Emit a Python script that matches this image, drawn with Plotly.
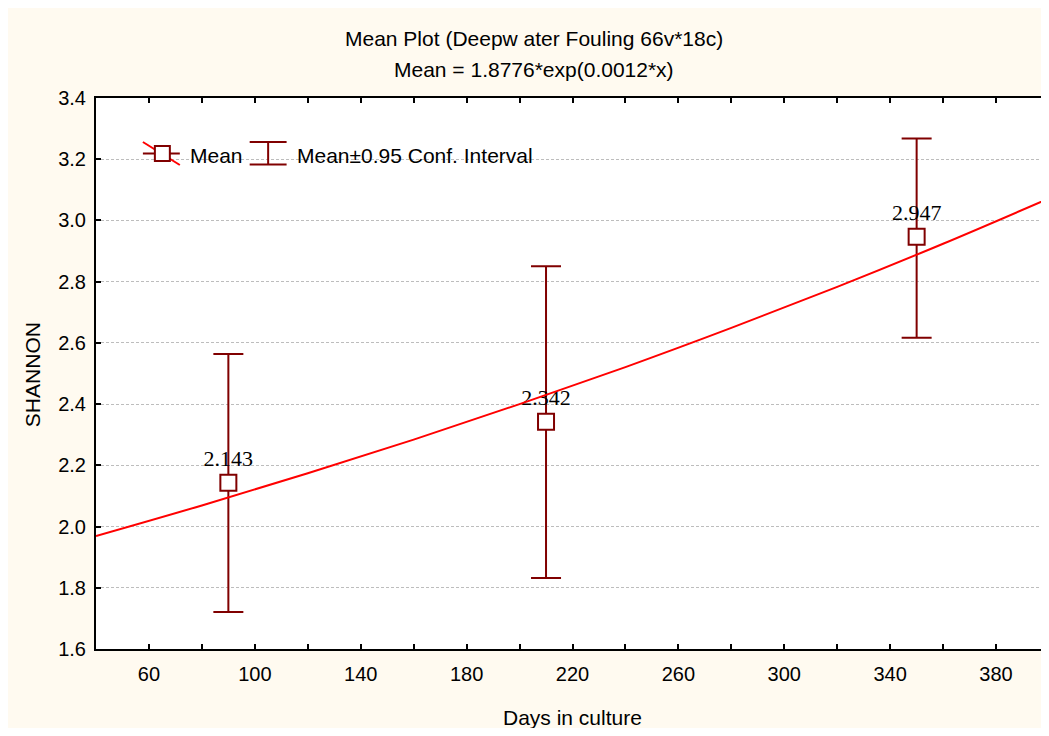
import plotly.graph_objects as go

# ---- data ----
days = [90, 210, 350]
mean_shannon = [2.143, 2.342, 2.947]
ci_lower = [1.721, 1.832, 2.617]
ci_upper = [2.564, 2.850, 3.268]
mean_labels = ["2.143", "2.342", "2.947"]

fit_x = [40, 80, 120, 160, 200, 240, 280, 320, 360, 400]
fit_y = [1.969, 2.069, 2.174, 2.284, 2.400, 2.521, 2.649, 2.783, 2.924, 3.072]

x_tickvals = [60, 80, 100, 120, 140, 160, 180, 200, 220, 240, 260, 280, 300, 320, 340, 360, 380]
x_ticktext = ["60", "", "100", "", "140", "", "180", "", "220", "", "260", "", "300", "", "340", "", "380"]

title1 = "Mean Plot (Deepw ater Fouling 66v*18c)"
title2 = "Mean = 1.8776*exp(0.0012*x)"
x_title = "Days in culture"
y_title = "SHANNON"

# ---- layout geometry (page body has an 8px margin) ----
OFF = 8
PL, PT, PR, PB = 96, 98, 1051, 649   # plot area in page pixels
W, H = PR - OFF + 1, 736 - 2 * OFF
ML, MT = PL - OFF, PT - OFF
MR = W - (PR - OFF)
MB = H - (PB - OFF)
PW = PR - PL
PH = PB - PT

def px(x):
    return (x - PL) / PW

def py(y):
    return (PB - y) / PH

MAROON = "#800000"
RED = "#FF0000"
CREAM = "#FFFAF0"
SANS = "Liberation Sans, Arial, sans-serif"
SERIF = "Liberation Serif, Times New Roman, serif"

err_plus = [u - m for u, m in zip(ci_upper, mean_shannon)]
err_minus = [m - l for m, l in zip(mean_shannon, ci_lower)]

fig = go.Figure()

fig.add_trace(go.Scatter(
    x=days, y=mean_shannon,
    mode="markers+text",
    text=mean_labels,
    textposition="top center",
    textfont=dict(family=SERIF, size=22, color="black"),
    marker=dict(symbol="square", size=16, color="white",
                line=dict(color=MAROON, width=2)),
    error_y=dict(type="data", symmetric=False, array=err_plus,
                 arrayminus=err_minus, color=MAROON, thickness=2, width=15),
    showlegend=False, hoverinfo="x+y",
))

fig.add_trace(go.Scatter(
    x=fit_x, y=fit_y, mode="lines", line=dict(color=RED, width=2, shape="spline"),
    showlegend=False, hoverinfo="skip",
))

shapes = []
# legend: Mean symbol
shapes.append(dict(type="line", xref="paper", yref="paper",
                   x0=px(143), x1=px(180), y0=py(153.5), y1=py(153.5),
                   line=dict(color=MAROON, width=2)))
shapes.append(dict(type="line", xref="paper", yref="paper",
                   x0=px(143), x1=px(180), y0=py(142), y1=py(165),
                   line=dict(color=RED, width=2)))
shapes.append(dict(type="rect", xref="paper", yref="paper",
                   x0=px(155), x1=px(170), y0=py(161), y1=py(146),
                   fillcolor="white", line=dict(color=MAROON, width=2)))
# legend: CI symbol
shapes.append(dict(type="line", xref="paper", yref="paper",
                   x0=px(250), x1=px(287), y0=py(142), y1=py(142),
                   line=dict(color=MAROON, width=2)))
shapes.append(dict(type="line", xref="paper", yref="paper",
                   x0=px(250), x1=px(287), y0=py(164.5), y1=py(164.5),
                   line=dict(color=MAROON, width=2)))
shapes.append(dict(type="line", xref="paper", yref="paper",
                   x0=px(268.5), x1=px(268.5), y0=py(142), y1=py(164.5),
                   line=dict(color=MAROON, width=2)))

TXT = dict(family=SANS, size=21, color="black")
annotations = [
    dict(text=title1, xref="paper", yref="paper", x=px(535), y=py(38),
         showarrow=False, xanchor="center", yanchor="middle", font=TXT),
    dict(text=title2, xref="paper", yref="paper", x=px(535), y=py(70),
         showarrow=False, xanchor="center", yanchor="middle", font=TXT),
    dict(text="Mean", xref="paper", yref="paper", x=px(188), y=py(155),
         showarrow=False, xanchor="left", yanchor="middle", font=TXT),
    dict(text="Mean±0.95 Conf. Interval", xref="paper", yref="paper", x=px(295), y=py(155),
         showarrow=False, xanchor="left", yanchor="middle", font=TXT),
    dict(text=x_title, xref="paper", yref="paper", x=px(573), y=py(717),
         showarrow=False, xanchor="center", yanchor="middle", font=TXT),
    dict(text=y_title, xref="paper", yref="paper", x=px(32), y=py(375),
         showarrow=False, xanchor="center", yanchor="middle", textangle=-90, font=TXT),
]

fig.update_layout(
    width=W, height=H,
    margin=dict(l=ML, r=MR, t=MT, b=MB, pad=0),
    paper_bgcolor=CREAM,
    plot_bgcolor="white",
    shapes=shapes,
    annotations=annotations,
    font=dict(family=SANS, size=20, color="black"),
    xaxis=dict(
        range=[40, 400], tickvals=x_tickvals, ticktext=x_ticktext,
        ticks="inside", ticklen=5, tickwidth=2, tickcolor="black",
        showline=True, linecolor="black", linewidth=2, mirror="ticks",
        showgrid=False, zeroline=False, ticklabelstandoff=6,
        tickfont=dict(family=SANS, size=20),
    ),
    yaxis=dict(
        range=[1.6, 3.4], dtick=0.2, tick0=1.6, tickformat=".1f",
        ticks="inside", ticklen=5, tickwidth=2, tickcolor="black",
        showline=True, linecolor="black", linewidth=2, mirror="ticks",
        showgrid=True, gridcolor="#BDBDBD", griddash="3px,2px", gridwidth=1,
        zeroline=False, ticklabelstandoff=4,
        tickfont=dict(family=SANS, size=20),
    ),
)

fig.write_html("out.html")
